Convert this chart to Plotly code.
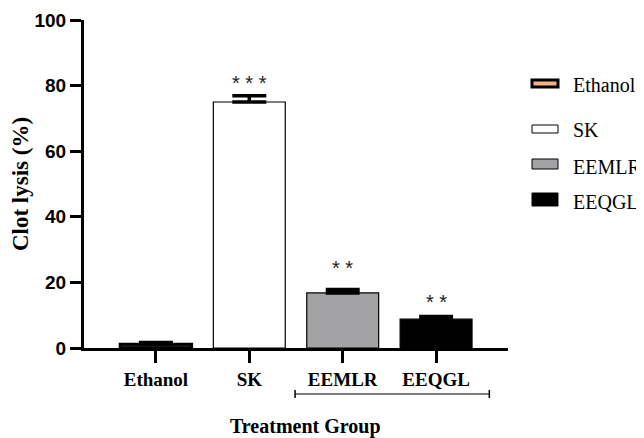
import plotly.graph_objects as go

categories = ["Ethanol", "SK", "EEMLR", "EEQGL"]
values = [1.2, 75.0, 16.8, 8.8]
errors = [0.5, 1.9, 1.0, 0.8]
bar_colors = ["#1a1a1a", "#ffffff", "#a3a3a6", "#000000"]
stars = ["", "* * *", "* *", "* *"]
star_y = [0, 80.8, 24.3, 13.9]
y_ticks = [0, 20, 40, 60, 80, 100]
legend_labels = ["Ethanol", "SK", "EEMLR", "EEQGL"]
legend_fill = ["#f4b183", "#ffffff", "#a3a3a6", "#000000"]

OFF = 8  # page body margin offset
W, H = 644 - OFF, 438 - OFF
L, T = 84 - OFF, 20 - OFF
R = W - (508 - OFF)
B = H - (348 - OFF)
PW, PH = W - L - R, H - T - B


def px_x(p):
    return (p - OFF - L) / PW


def px_y(p):
    return (H - B - (p - OFF)) / PH


fig = go.Figure()
fig.add_trace(go.Bar(
    x=categories, y=values, width=0.77,
    marker=dict(color=bar_colors, line=dict(color="black", width=[2.5, 1.2, 1.2, 1.2])),
    error_y=dict(type="data", symmetric=False, array=errors,
                 arrayminus=[0, 0, 0, 0], color="black", thickness=3.5, width=17),
    showlegend=False,
))

annotations = []
for c, s, yv in zip(categories, stars, star_y):
    if s:
        annotations.append(dict(x=c, y=yv, xref="x", yref="y", text=s, showarrow=False,
                                font=dict(family="Liberation Sans", size=20, color="#222"),
                                yanchor="middle"))

shapes = []
# bracket under treatment groups
bx0, bx1, by = 1.49, 3.57, px_y(394)
shapes.append(dict(type="line", xref="x", yref="paper", x0=bx0, x1=bx1, y0=by, y1=by,
                   line=dict(color="black", width=1.2)))
for bx in (bx0, bx1):
    shapes.append(dict(type="line", xref="x", yref="paper", x0=bx, x1=bx,
                       y0=px_y(390), y1=px_y(398), line=dict(color="black", width=1.5)))

annotations.append(dict(x=px_x(383), y=px_y(426), xref="paper", yref="paper",
                        text="<b>Treatment Group</b>", showarrow=False, yanchor="middle",
                        font=dict(family="Liberation Serif", size=20, color="black")))

# legend drawn manually
leg_boxes = [(80, 87), (125, 133), (159, 169), (193, 206)]
leg_text_y = [85, 130, 167, 202]
for lab, fill, (y0, y1), ty, i in zip(legend_labels, legend_fill, leg_boxes, leg_text_y, range(4)):
    shapes.append(dict(type="rect", xref="paper", yref="paper",
                       x0=px_x(532), x1=px_x(558), y0=px_y(y1), y1=px_y(y0),
                       fillcolor=fill,
                       line=dict(color="black", width=3 if i == 0 else 1)))
    annotations.append(dict(x=px_x(571), y=px_y(ty), xref="paper", yref="paper",
                            text=lab, showarrow=False, xanchor="left", yanchor="middle",
                            font=dict(family="Liberation Serif", size=20, color="black")))

fig.update_layout(
    width=W, height=H,
    margin=dict(l=L, r=R, t=T, b=B, autoexpand=False),
    plot_bgcolor="white", paper_bgcolor="white",
    shapes=shapes, annotations=annotations,
    xaxis=dict(range=[-0.77, 3.77], showline=True, linecolor="black", linewidth=3,
               ticks="outside", ticklen=12, tickwidth=3, tickcolor="black", automargin=False,
               tickfont=dict(family="Liberation Serif", size=19, color="black", weight="bold"),
               showgrid=False, zeroline=False, fixedrange=True),
    yaxis=dict(range=[0, 100], tickvals=y_ticks, showline=True, linecolor="black", linewidth=3,
               ticks="outside", ticklen=11, tickwidth=3, tickcolor="black", automargin=False,
               tickfont=dict(family="Liberation Sans", size=19, color="black", weight="bold"),
               title=dict(text="<b>Clot lysis (%)</b>", standoff=12,
                          font=dict(family="Liberation Serif", size=23, color="black")),
               showgrid=False, zeroline=False),
)

fig.write_html("out.html")
